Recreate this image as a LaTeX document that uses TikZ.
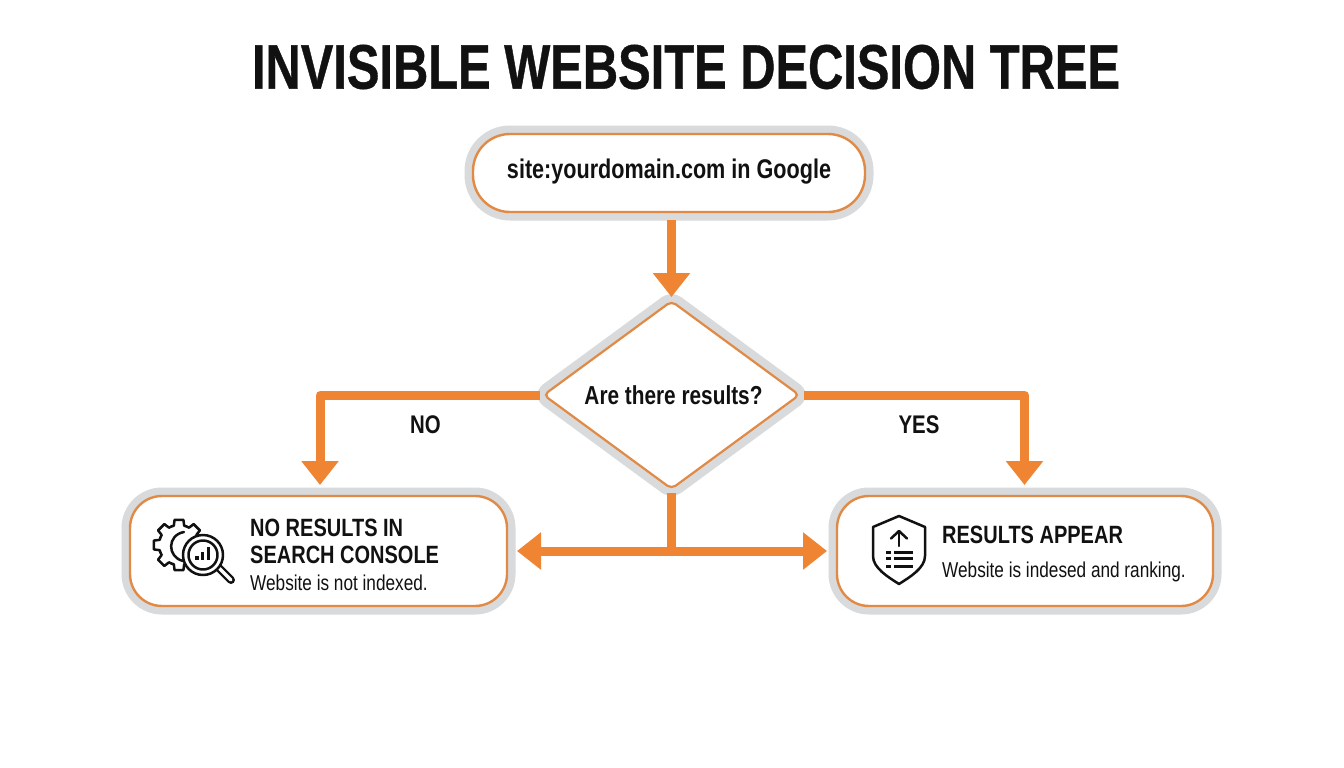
\documentclass[tikz,border=0pt]{standalone}
\usepackage{fontspec}
\setmainfont{Liberation Sans}
\newfontfamily\titlecond[FakeStretch=0.775,FakeBold=0.6]{Liberation Sans Bold}
\newfontfamily\boldcond[FakeStretch=0.80]{Liberation Sans Bold}
\newfontfamily\regcond[FakeStretch=0.80]{Liberation Sans}
\usetikzlibrary{arrows.meta,shapes.geometric}
\definecolor{flow}{HTML}{EF8433}
\definecolor{edge}{HTML}{E08A45}
\definecolor{halo}{HTML}{D9DADC}
\definecolor{ink}{HTML}{111111}
\tikzset{
  x=1pt,y=-1pt,
  box/.style={draw=edge,line width=2.4pt,fill=white,rounded corners=#1,inner sep=0pt,outer sep=8pt,
    preaction={draw=halo,line width=17pt,line join=round}},
  choice/.style={diamond,draw=edge,line width=2.2pt,fill=white,inner sep=0pt,outer sep=3pt,rounded corners=5pt,
    preaction={draw=halo,line width=18pt,line join=round},
    minimum width=258pt,minimum height=190pt,aspect=1.37},
  flowline/.style={draw=flow,line width=9pt,line join=round},
  flowhead/.style={flowline,-{Triangle[length=24pt,width=36pt]}},
  head/.style={text=ink,font=\boldcond\fontsize{25}{30}\selectfont,anchor=west,inner sep=0pt},
  sub/.style={text=ink,font=\regcond\fontsize{21.5}{26}\selectfont,anchor=west,inner sep=0pt},
  lab/.style={text=ink,font=\boldcond\fontsize{25.5}{30}\selectfont,inner sep=0pt},
  ico/.style={draw=ink,line width=2.5pt,line cap=round,line join=round},
  icothick/.style={draw=ink,line width=3pt,line cap=butt},
}
\begin{document}
\begin{tikzpicture}
\useasboundingbox (0,0) rectangle (1344,768);
\fill[white] (0,0) rectangle (1344,768);
\node[text=ink,font=\titlecond\fontsize{63}{70}\selectfont,inner sep=0pt] (title) at (686,67) {INVISIBLE WEBSITE DECISION TREE};
\node[box=37pt,minimum width=392pt,minimum height=78pt] (start) at (669,173) {};
\node[text=ink,font=\boldcond\fontsize{27}{30}\selectfont,inner sep=0pt] (starttext) at (669,172) {site:yourdomain.com in Google};
\node[choice,text=ink,font=\boldcond\fontsize{26}{30}\selectfont] (q) at (671.5,395) {\hspace{4pt}Are there results?};
\node[box=32pt,minimum width=377pt,minimum height=110pt] (noresults) at (318.5,551) {};
\node[box=32pt,minimum width=376pt,minimum height=110pt] (results) at (1025,551) {};
\coordinate (joint) at (q.south |- noresults.east);
\coordinate (notop) at ([xshift=1.5pt]noresults.north);
\coordinate (yestop) at ([xshift=-0.5pt]results.north);
\draw[flowhead] (start.south -| q.north) -- (q.north);
\draw[flowhead,shorten >=3pt] (q.west) -| (notop);
\draw[flowhead,shorten >=3pt] (q.east) -| (yestop);
\draw[flowline] (q.south) -- (joint);
\draw[flowhead,shorten >=2pt] (joint) -- (noresults.east);
\draw[flowhead,shorten >=2pt] (joint) -- (results.west);
\node[lab] (no) at (425.5,425) {NO};
\node[lab] (yes) at (919,425) {YES};
\node[head] (h1) at (250,528) {NO RESULTS IN};
\node[head] (h2) at (250,555) {SEARCH CONSOLE};
\node[sub] (s1) at (250,583) {Website is not indexed.};
\node[head] (h3) at (942,535) {RESULTS APPEAR};
\node[sub] (s3) at (942,572) {Website is indesed and ranking.};
% gear
\foreach \a in {0,45,...,315}{
  \draw[ico] ([shift={(\a-22.5:20)}]179,545) -- ([shift={(\a-15:20)}]179,545) -- ([shift={(\a-10:25.5)}]179,545) -- ([shift={(\a+10:25.5)}]179,545) -- ([shift={(\a+15:20)}]179,545) -- ([shift={(\a+22.5:20)}]179,545);
}
\draw[ico] (184,532) .. controls (167,535) and (167,557) .. (183,561);
% magnifier
\draw[ink,line width=8pt,line cap=round] (219,568) -- (231,580);
\draw[white,line width=3.4pt,line cap=round] (219,568) -- (231,580);
\draw[ico,fill=white] (203,555) circle (20);
\draw[ico] (203,555) circle (14.5);
\fill[ink] (195,555.5) rectangle (198.5,560);
\fill[ink] (200.5,552) rectangle (204,560);
\fill[ink] (206.5,547) rectangle (210,560);
% shield icon
\draw[ico] (899,516) -- (925,527) -- (925,556) .. controls (925,568) and (910,577) .. (899,584) .. controls (888,577) and (873,568) .. (873,556) -- (873,527) -- cycle;
\draw[ico] (899,546) -- (899,531);
\draw[ico] (891,538.5) -- (899,531) -- (907,538.5);
\draw[icothick] (894,552) -- (913,552);
\draw[icothick] (894,558.5) -- (913,558.5);
\draw[icothick] (894,566) -- (913,566);
\draw[icothick] (886,552) -- (891,552);
\draw[icothick] (886,558.5) -- (891,558.5);
\draw[icothick] (886,566) -- (891,566);
\end{tikzpicture}
\end{document}
